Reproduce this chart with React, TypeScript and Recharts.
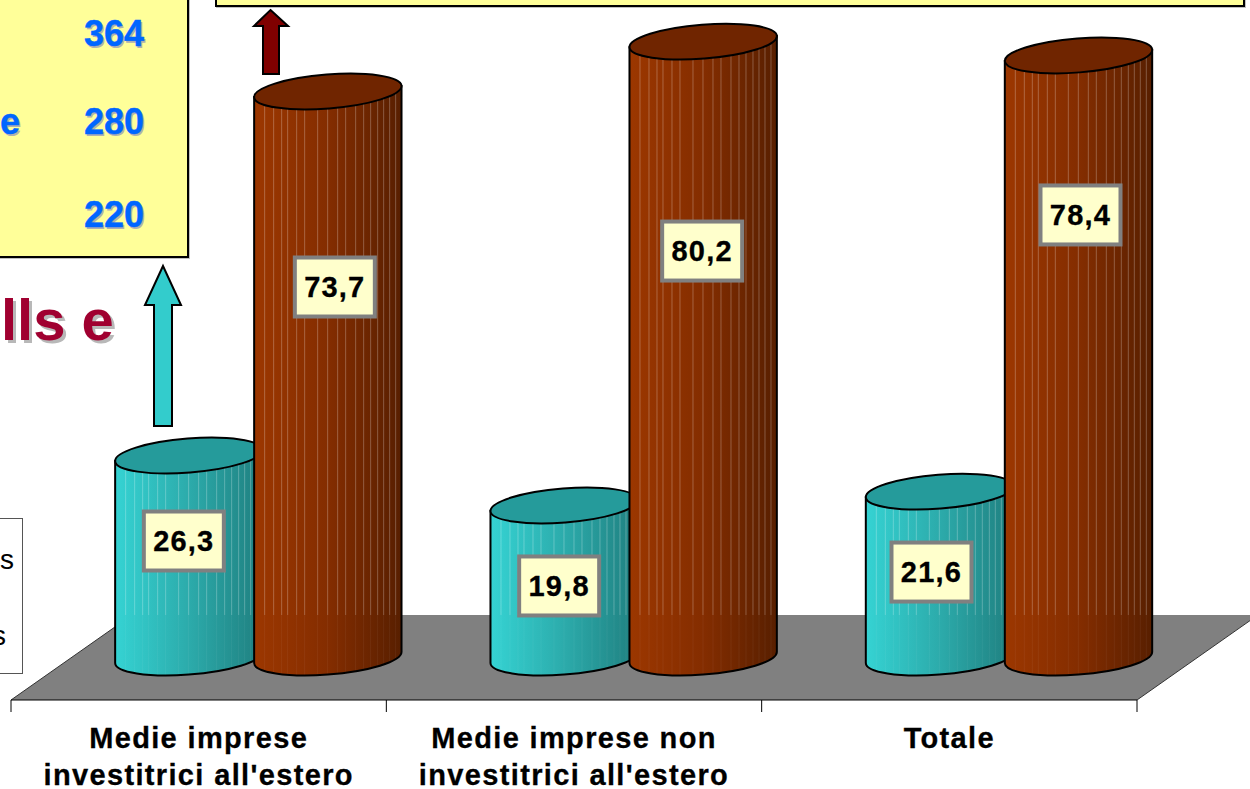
import React from 'react';
import { BarChart, Bar, XAxis, YAxis, LabelList } from 'recharts';

const categoryLines = [
  ['Medie imprese', "investitrici all'estero"],
  ['Medie imprese non', "investitrici all'estero"],
  ['Totale'],
];
const categories = ['Medie imprese investitrici all\'estero', 'Medie imprese non investitrici all\'estero', 'Totale'];
const tealValues = [26.3, 19.8, 21.6];
const redValues = [73.7, 80.2, 78.4];

const chartData = categories.map((name, i) => ({ name, teal: tealValues[i], red: redValues[i] }));

// the labels were dragged by hand in the original, so they need nudging
const TEAL_NUDGE = [[-5, -58], [-5, -38], [-8, -45]];
const RED_NUDGE = [[7, -130], [-1, -141], [2, -184]];

const W = 1250;
const H = 789;
const AXIS_Y = 700;
const FLOOR_BACK_Y = 615;
const BAND = 1126 / 3;
const DEPTH_X = 59.33;
const DEPTH_Y = 37;
const RY = 17;
const TILT = -4.5;
const STRIPES = [10, 19, 27, 33, 42, 50, 63, 73, 83, 91, 101, 109, 116, 123, 129, 135, 141];

const Cylinder = (props: any) => {
  const { x, y, width, height, index, gradient, top, prefix } = props;
  const rx = width / 2 + 0.4;
  const cx = x + DEPTH_X + width / 2;
  const t = (TILT * Math.PI) / 180;
  const ext = Math.sqrt(rx * rx * Math.cos(t) ** 2 + RY * RY * Math.sin(t) ** 2);
  const sideOff = ((rx * rx - RY * RY) * Math.abs(Math.sin(t) * Math.cos(t))) / ext;
  const topY = y - DEPTH_Y - sideOff;
  const botY = y + height - DEPTH_Y - sideOff;
  const l = cx - ext;
  const r = cx + ext;
  const body = `M${l},${topY + sideOff} L${l},${botY + sideOff} A${rx},${RY} ${TILT} 0 0 ${r},${botY - sideOff} L${r},${topY - sideOff} Z`;
  const clipId = `${prefix}-clip-${index}`;
  return (
    <g>
      <clipPath id={clipId}>
        <path d={body} />
      </clipPath>
      <path d={body} fill={`url(#${gradient})`} />
      <g clipPath={`url(#${clipId})`}>
        {STRIPES.map((s) => (
          <g key={s}>
            <rect x={l + s} y={topY - 20} width={1} height={Math.max(FLOOR_BACK_Y - topY + 20, 0)} fill="#fff" opacity={0.26} />
            <rect x={l + s} y={FLOOR_BACK_Y} width={1} height={80} fill="#fff" opacity={0.05} />
          </g>
        ))}
      </g>
      <path d={body} fill="none" stroke="#000" strokeWidth={2} />
      <ellipse cx={cx} cy={topY} rx={rx} ry={RY} transform={`rotate(${TILT} ${cx} ${topY})`} fill={top} stroke="#000" strokeWidth={2} />
    </g>
  );
};

const valueLabel = (nudge: number[][]) => (props: any) => {
  const { x, y, width, height, value, index } = props;
  const cx = x + DEPTH_X + width / 2 + nudge[index][0];
  const cy = y + height / 2 + nudge[index][1];
  return (
    <g>
      <rect x={cx - 40} y={cy - 29.5} width={80} height={59} fill="#ffffcc" stroke="#808080" strokeWidth={4} />
      <text x={cx} y={cy + 10} textAnchor="middle" fontFamily="Liberation Sans" fontWeight="bold" fontSize={29} letterSpacing={1.2} stroke="#000" strokeWidth={0.3} fill="#000">
        {String(value).replace('.', ',')}
      </text>
    </g>
  );
};

const CategoryTick = (props: any) => {
  const { x, index } = props;
  const lines = categoryLines[index] ?? [];
  return (
    <g>
      <line x1={x - BAND / 2} x2={x - BAND / 2} y1={AXIS_Y} y2={AXIS_Y + 12} stroke="#000" strokeWidth={1} />
      {index === categories.length - 1 && (
        <line x1={x + BAND / 2} x2={x + BAND / 2} y1={AXIS_Y} y2={AXIS_Y + 12} stroke="#000" strokeWidth={1} />
      )}
      {lines.map((line, i) => (
        <text key={line} x={x} y={748 + i * 37} textAnchor="middle" fontFamily="Liberation Sans" fontWeight="bold" fontSize={29} letterSpacing={1.35} stroke="#000" strokeWidth={0.3} fill="#000">
          {line}
        </text>
      ))}
    </g>
  );
};

const blueText: React.CSSProperties = {
  position: 'absolute',
  fontFamily: 'Liberation Sans',
  fontWeight: 'bold',
  fontSize: 36,
  lineHeight: '40px',
  color: '#0066ff',
  WebkitTextStroke: '0.4px #0066ff',
  textShadow: '1.5px 1.5px 0 #b0b0b0',
};

export default function App() {
  return (
    <div style={{ position: 'absolute', left: 0, top: 0, width: W, height: H, overflow: 'hidden', background: '#fff' }}>
      <BarChart
        width={W}
        height={H}
        data={chartData}
        margin={{ top: 0, right: 113, bottom: 0, left: 11 }}
        barSize={147}
        barGap={-8}
      >
        <defs>
          <linearGradient id="tealGrad" x1="0" x2="1" y1="0" y2="0">
            <stop offset="0" stopColor="#35d3d3" />
            <stop offset="0.5" stopColor="#2cabab" />
            <stop offset="1" stopColor="#1f7f7f" />
          </linearGradient>
          <linearGradient id="redGrad" x1="0" x2="1" y1="0" y2="0">
            <stop offset="0" stopColor="#9c3700" />
            <stop offset="0.5" stopColor="#842d00" />
            <stop offset="1" stopColor="#581f00" />
          </linearGradient>
        </defs>
        <polygon points={`11,${AXIS_Y} 1137,${AXIS_Y} 1258,${FLOOR_BACK_Y} 132,${FLOOR_BACK_Y}`} fill="#808080" />
        <line x1={11} y1={AXIS_Y} x2={132} y2={FLOOR_BACK_Y} stroke="#333" strokeWidth={1} />
        <line x1={1137} y1={AXIS_Y} x2={1258} y2={FLOOR_BACK_Y} stroke="#333" strokeWidth={1} />
        <XAxis dataKey="name" height={89} interval={0} tickLine={false} stroke="#000" tick={<CategoryTick />} />
        <YAxis hide domain={[0, 91.15]} />
        <Bar
          dataKey="teal"
          isAnimationActive={false}
          shape={(p: any) => <Cylinder {...p} gradient="tealGrad" top="#259b9b" prefix="teal" />}
        >
          <LabelList dataKey="teal" content={valueLabel(TEAL_NUDGE)} />
        </Bar>
        <Bar
          dataKey="red"
          isAnimationActive={false}
          shape={(p: any) => <Cylinder {...p} gradient="redGrad" top="#702500" prefix="red" />}
        >
          <LabelList dataKey="red" content={valueLabel(RED_NUDGE)} />
        </Bar>
      </BarChart>

      {/* cropped slide shapes around the chart */}
      <div style={{ position: 'absolute', left: -4, top: -4, width: 189, height: 258, background: '#ffff99', border: '2px solid #000', boxShadow: '1px 1px 0 #c0c0c0' }} />
      <div style={{ ...blueText, left: 84, top: 14 }}>364</div>
      <div style={{ ...blueText, left: 84, top: 102 }}>280</div>
      <div style={{ ...blueText, left: 84, top: 195 }}>220</div>
      <div style={{ ...blueText, left: 0, top: 102 }}>e</div>

      <div style={{ position: 'absolute', left: 215, top: -4, width: 1026, height: 7, background: '#ffff99', border: '2px solid #000', boxShadow: '1px 1px 0 #c0c0c0' }} />

      <div style={{ position: 'absolute', left: 1, top: 289, fontFamily: 'Liberation Sans', fontWeight: 'bold', fontSize: 58, lineHeight: '62px', color: '#a00030', textShadow: '3px 3px 0 #b8b8b8', whiteSpace: 'pre' }}>
        lls e
      </div>

      <div style={{ position: 'absolute', left: -2, top: 518, width: 23, height: 154, background: '#fff', border: '1px solid #555' }} />
      <div style={{ position: 'absolute', left: 0, top: 545, fontFamily: 'Liberation Sans', fontSize: 28, lineHeight: '30px', color: '#000' }}>s</div>
      <div style={{ position: 'absolute', left: -8, top: 621, fontFamily: 'Liberation Sans', fontSize: 28, lineHeight: '30px', color: '#000' }}>s</div>

      <svg width={W} height={H} style={{ position: 'absolute', left: 0, top: 0, pointerEvents: 'none' }}>
        <polygon points="163,266 181,305 172,305 172,426 154,426 154,305 145,305" fill="#33cccc" stroke="#000" strokeWidth={2} />
        <polygon points="270.5,10 288,26 279,26 279,74 263,74 263,26 254,26" fill="#800000" stroke="#000" strokeWidth={2} />
      </svg>
    </div>
  );
}
